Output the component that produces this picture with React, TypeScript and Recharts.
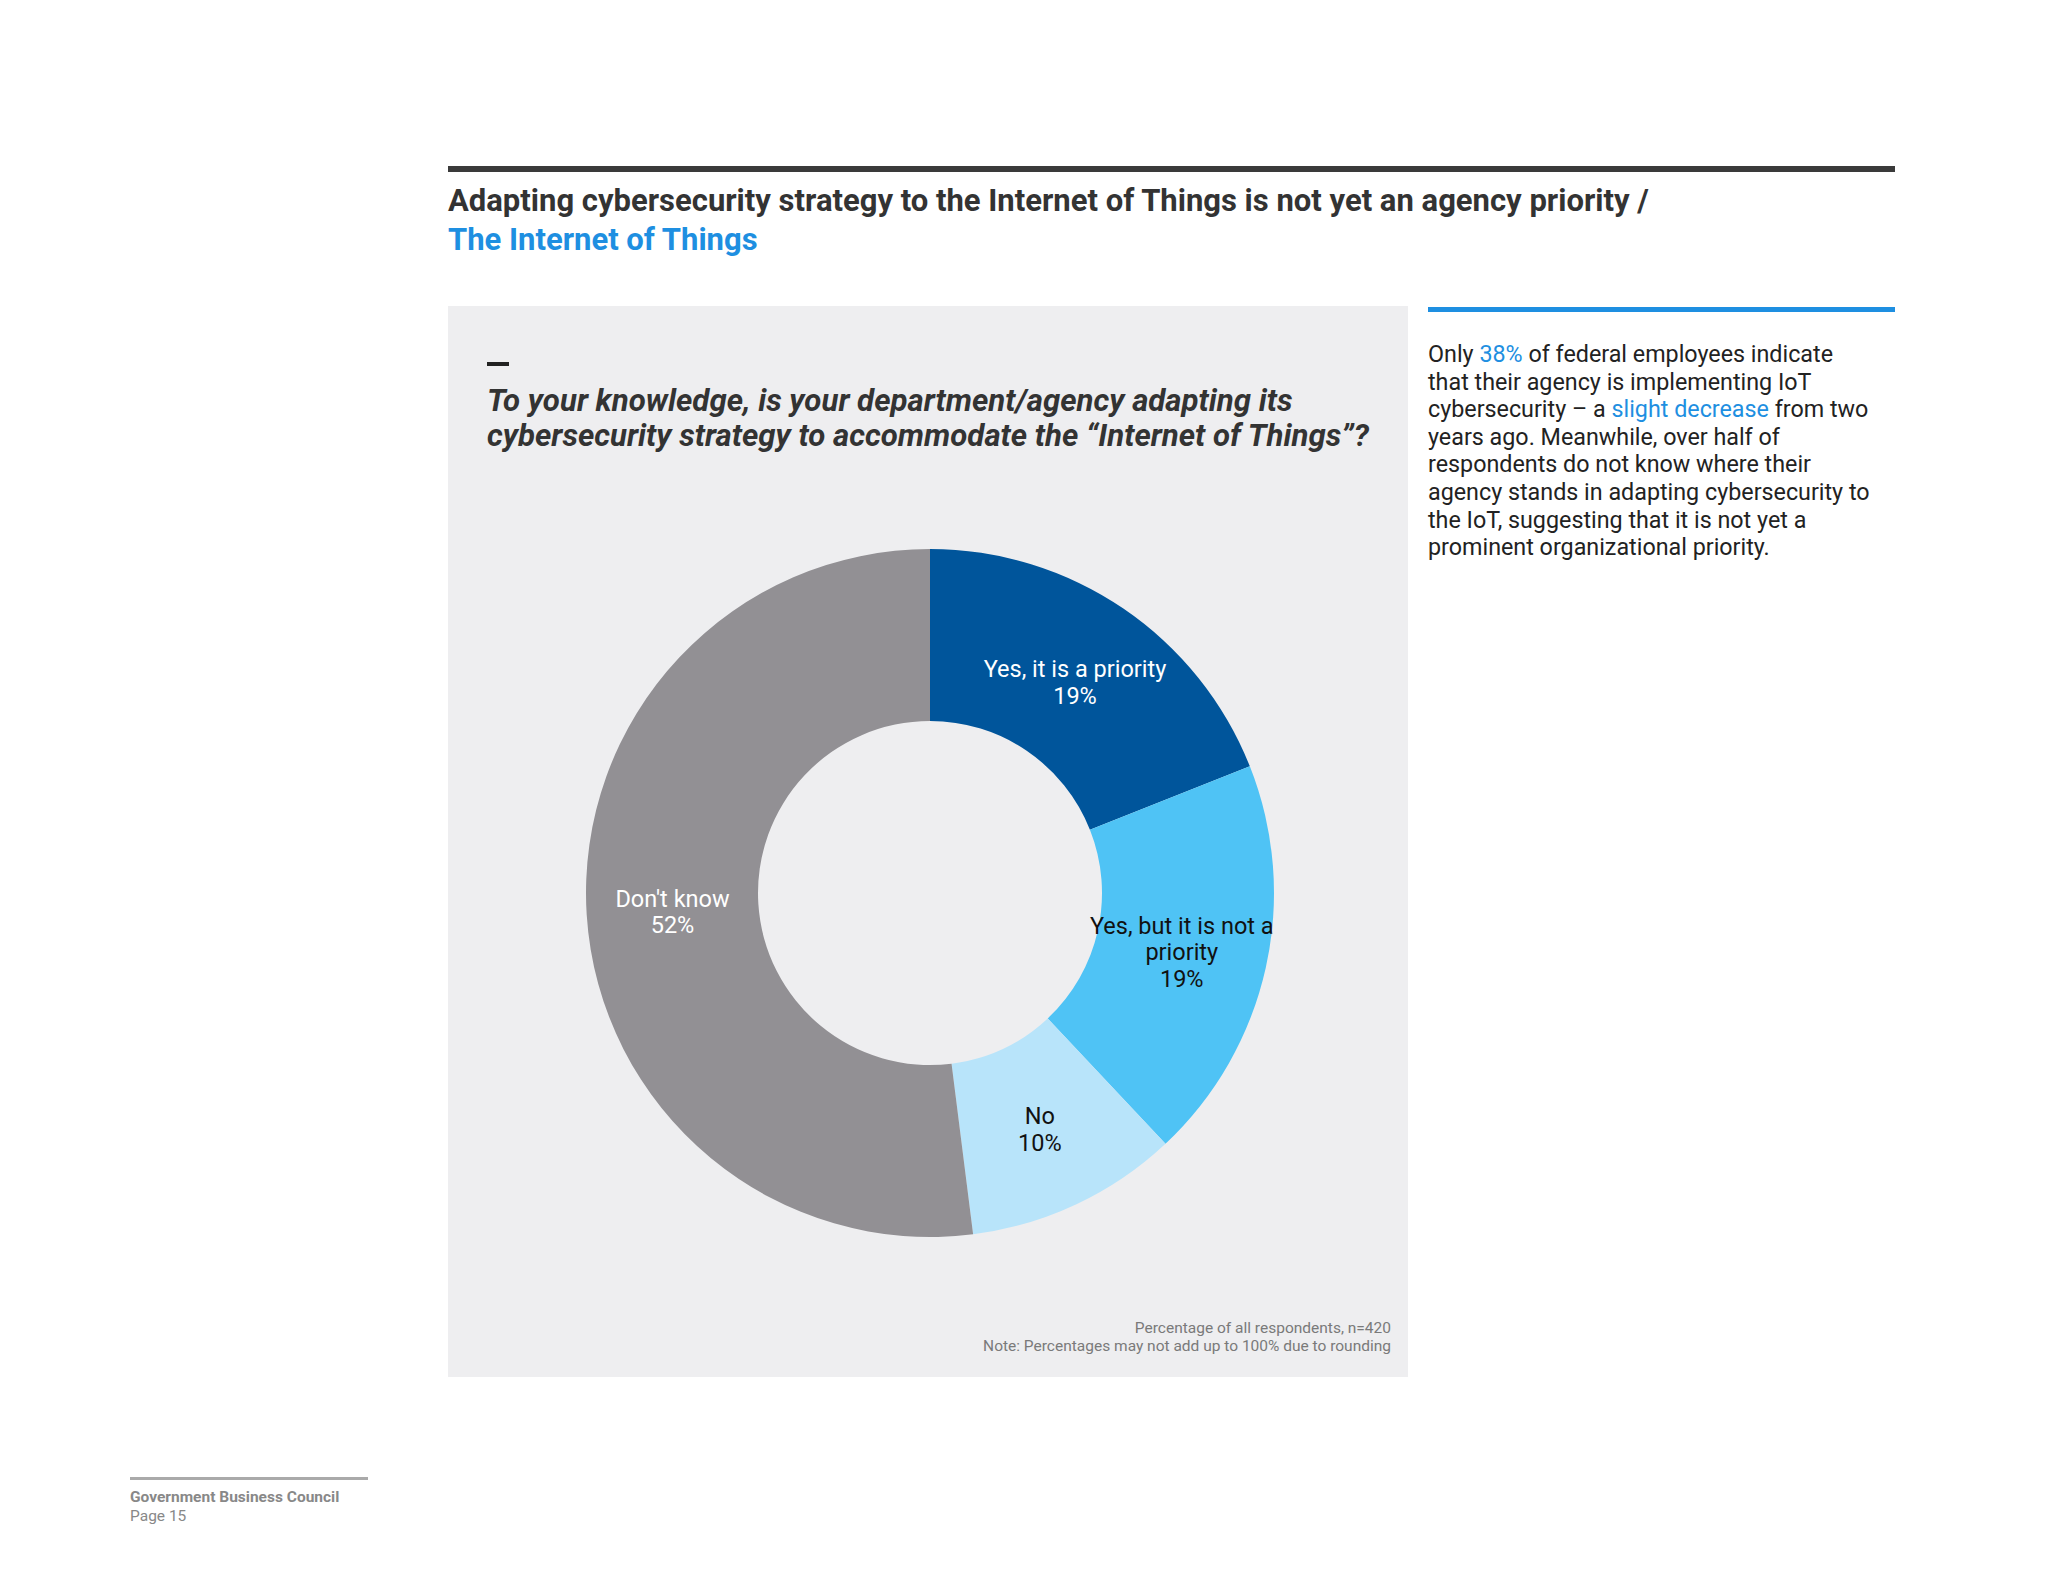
import { PieChart, Pie, Cell } from 'recharts';

const categories = ['Yes, it is a priority', 'Yes, but it is not a priority', 'No', "Don't know"];
const values = [19, 19, 10, 52];
const labelLines = [['Yes, it is a priority'], ['Yes, but it is not a', 'priority'], ['No'], ["Don't know"]];
const sliceColors = ['#00559B', '#4FC3F5', '#B8E4FA', '#929094'];
const labelColors = ['#ffffff', '#111111', '#111111', '#ffffff'];

const chartData = categories.map((name, i) => ({ name, value: values[i] }));

const FONT = 'Roboto, "Noto Sans", sans-serif';
const RAD = Math.PI / 180;

function SliceLabel(props: any) {
  const { cx, cy, midAngle, innerRadius, outerRadius, index, value } = props;
  const r = (innerRadius + outerRadius) / 2;
  const x = cx + r * Math.cos(-midAngle * RAD);
  const y = cy + r * Math.sin(-midAngle * RAD) + 3;
  const lines = [...labelLines[index], `${value}%`];
  const lh = 26.5;
  return (
    <text
      x={x}
      y={y}
      textAnchor="middle"
      fill={labelColors[index]}
      fontSize={23.5}
      fontFamily={FONT}
    >
      {lines.map((l, i) => (
        <tspan key={i} x={x} y={y + (i - (lines.length - 1) / 2) * lh} dominantBaseline="central">
          {l}
        </tspan>
      ))}
    </text>
  );
}

export default function App() {
  return (
    <div
      style={{
        position: 'absolute',
        left: 0,
        top: 0,
        width: 2048,
        height: 1582,
        background: '#ffffff',
        fontFamily: FONT,
        overflow: 'hidden',
      }}
    >
      {/* top rule + title */}
      <div style={{ position: 'absolute', left: 448, top: 166, width: 1447, height: 6, background: '#3a3a3a' }} />
      <div
        style={{
          position: 'absolute',
          left: 448,
          top: 181,
          fontSize: 31,
          fontWeight: 700,
          lineHeight: '39px',
          color: '#333333',
          whiteSpace: 'nowrap',
        }}
      >
        Adapting cybersecurity strategy to the Internet of Things is not yet an agency priority /
        <br />
        <span style={{ color: '#1E8FE1' }}>The Internet of Things</span>
      </div>

      {/* grey panel */}
      <div style={{ position: 'absolute', left: 448, top: 306, width: 960, height: 1071, background: '#EEEEF0' }}>
        <div style={{ position: 'absolute', left: 39, top: 56, width: 22, height: 4, background: '#222' }} />
        <div
          style={{
            position: 'absolute',
            left: 39,
            top: 77,
            fontSize: 31.2,
            fontWeight: 700,
            fontStyle: 'italic',
            lineHeight: '35px',
            color: '#333333',
            whiteSpace: 'nowrap',
          }}
        >
          To your knowledge, is your department/agency adapting its
          <br />
          cybersecurity strategy to accommodate the “Internet of Things”?
        </div>

        <div style={{ position: 'absolute', left: 0, top: 0 }}>
          <PieChart width={960} height={1071} margin={{ top: 0, right: 0, bottom: 0, left: 0 }}>
            <Pie
              data={chartData}
              dataKey="value"
              nameKey="name"
              cx={482}
              cy={587}
              innerRadius={172}
              outerRadius={344}
              startAngle={90}
              endAngle={-270}
              stroke="none"
              label={SliceLabel}
              labelLine={false}
              isAnimationActive={false}
            >
              {chartData.map((d, i) => (
                <Cell key={d.name} fill={sliceColors[i]} />
              ))}
            </Pie>
          </PieChart>
        </div>

        <div
          style={{
            position: 'absolute',
            right: 17,
            top: 1013,
            fontSize: 15.5,
            lineHeight: '18px',
            color: '#7a7a7a',
            textAlign: 'right',
            whiteSpace: 'nowrap',
          }}
        >
          Percentage of all respondents, n=420
          <br />
          Note: Percentages may not add up to 100% due to rounding
        </div>
      </div>

      {/* right commentary */}
      <div style={{ position: 'absolute', left: 1428, top: 307, width: 467, height: 5, background: '#1E8FE1' }} />
      <div
        style={{
          position: 'absolute',
          left: 1428,
          top: 341,
          fontSize: 23.3,
          lineHeight: '27.6px',
          color: '#222222',
          whiteSpace: 'nowrap',
        }}
      >
        Only <span style={{ color: '#1E8FE1' }}>38%</span> of federal employees indicate
        <br />
        that their agency is implementing IoT
        <br />
        cybersecurity – a <span style={{ color: '#1E8FE1' }}>slight decrease</span> from two
        <br />
        years ago. Meanwhile, over half of
        <br />
        respondents do not know where their
        <br />
        agency stands in adapting cybersecurity to
        <br />
        the IoT, suggesting that it is not yet a
        <br />
        prominent organizational priority.
      </div>

      {/* footer */}
      <div style={{ position: 'absolute', left: 130, top: 1477, width: 238, height: 3, background: '#aaaaaa' }} />
      <div style={{ position: 'absolute', left: 130, top: 1488, fontSize: 15.5, lineHeight: '19px', color: '#888888' }}>
        <div style={{ fontWeight: 700 }}>Government Business Council</div>
        <div>Page 15</div>
      </div>
    </div>
  );
}
